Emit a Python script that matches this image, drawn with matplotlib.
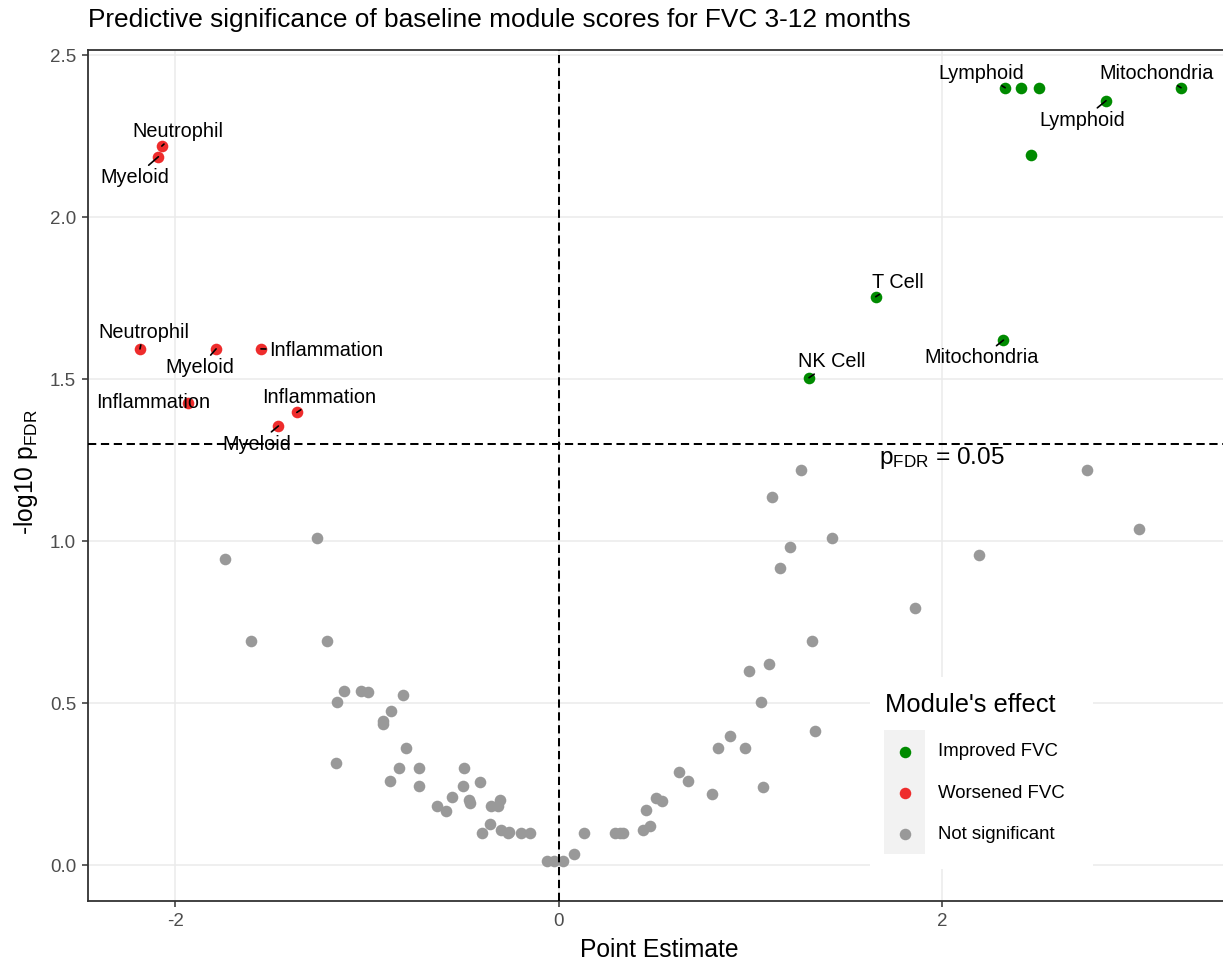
import matplotlib
matplotlib.use("Agg")
import matplotlib.pyplot as plt
from matplotlib.lines import Line2D
from matplotlib.patches import Rectangle

plt.rcParams["font.family"] = ["Liberation Sans", "DejaVu Sans"]
plt.rcParams["axes.unicode_minus"] = False

# modules with p_FDR >= 0.05
grey_x = [-1.740, -1.259, -1.606, -1.210, -1.120, -1.158, -1.031, -0.993, -0.814, -0.875,
          -0.918, -0.915, -0.795, -1.161, -0.833, -0.730, -0.880, -0.730, -0.495, -0.499,
          -0.410, -0.555, -0.469, -0.463, -0.633, -0.589, -0.353, -0.306, -0.315, -0.357,
          -0.402, -0.301, -0.258, -0.263, -0.197, -0.150, -0.063, -0.025, 0.024, 0.081,
          0.132, 0.294, 0.320, 0.337, 0.438, 0.476, 0.455, 0.507, 0.537, 0.629,
          0.673, 0.798, 0.829, 0.893, 0.973, 1.064, 1.057, 0.994, 1.097, 1.338,
          1.323, 1.153, 1.206, 1.424, 1.111, 1.262, 2.754, 3.025, 2.193, 1.858]
grey_y = [0.946, 1.011, 0.691, 0.691, 0.538, 0.503, 0.538, 0.535, 0.525, 0.475,
          0.446, 0.436, 0.361, 0.315, 0.301, 0.301, 0.261, 0.245, 0.301, 0.245,
          0.258, 0.210, 0.202, 0.193, 0.184, 0.169, 0.184, 0.202, 0.183, 0.127,
          0.099, 0.109, 0.104, 0.099, 0.099, 0.099, 0.013, 0.013, 0.013, 0.034,
          0.099, 0.099, 0.099, 0.099, 0.109, 0.122, 0.171, 0.209, 0.199, 0.287,
          0.261, 0.219, 0.361, 0.400, 0.361, 0.243, 0.503, 0.600, 0.623, 0.415,
          0.691, 0.919, 0.982, 1.011, 1.136, 1.220, 1.220, 1.039, 0.958, 0.795]

# worsened FVC
red_x = [-2.070, -2.088, -2.184, -1.787, -1.553, -1.932, -1.366, -1.462]
red_y = [2.220, 2.187, 1.594, 1.594, 1.594, 1.426, 1.398, 1.356]
red_names = ["Neutrophil", "Myeloid", "Neutrophil", "Myeloid", "Inflammation",
             "Inflammation", "Inflammation", "Myeloid"]

# improved FVC
green_x = [2.328, 2.409, 2.506, 2.854, 3.245, 2.465, 1.653, 2.319, 1.305]
green_y = [2.400, 2.400, 2.400, 2.360, 2.400, 2.193, 1.755, 1.621, 1.505]
green_names = ["Lymphoid", "", "", "Lymphoid", "Mitochondria", "", "T Cell",
               "Mitochondria", "NK Cell"]

FDR_CUT = 1.301  # -log10(0.05)

# where the repelled labels ended up (data coords), and whether a segment shows
red_lab = [(-1.988, 2.264), (-2.212, 2.123), (-2.166, 1.644), (-1.871, 1.537),
           (-1.215, 1.590), (-2.114, 1.429), (-1.248, 1.444), (-1.575, 1.300)]
red_seg = [True, True, True, True, True, False, True, True]
green_lab = [(2.203, 2.444), None, None, (2.731, 2.300), (3.119, 2.444), None,
             (1.771, 1.800), (2.203, 1.566), (1.425, 1.554)]

GREEN, RED, GREY = "#008B00", "#EE2C2C", "#999999"
W, H = 1223, 963

fig = plt.figure(figsize=(W / 100, H / 100), dpi=100)
ax = fig.add_axes([88 / W, 1 - 900.7 / H, 1 - 88 / W, (900.7 - 49.5) / H])

ax.scatter(grey_x, grey_y, s=70, color=GREY, lw=0, zorder=2)
ax.scatter(red_x, red_y, s=70, color=RED, lw=0, zorder=2)
ax.scatter(green_x, green_y, s=70, color=GREEN, lw=0, zorder=2)

dash = dict(color="black", lw=1.45, ls=(0, (4.1, 2.3)), zorder=3)
ax.axhline(FDR_CUT, **dash)
ax.axvline(0, **dash)

seg = dict(arrowstyle="-", color="black", lw=1.2, shrinkA=0, shrinkB=0)
for x, y, name, pos, s in zip(red_x, red_y, red_names, red_lab, red_seg):
    ax.annotate(name, xy=(x, y), xytext=pos, ha="center", va="center",
                fontsize=14.3, zorder=4, arrowprops=seg if s else None)
for x, y, name, pos in zip(green_x, green_y, green_names, green_lab):
    if pos is None:
        continue
    ax.annotate(name, xy=(x, y), xytext=pos, ha="center", va="center",
                fontsize=14.3, zorder=4, arrowprops=seg)

ax.text(2.0, 1.257, r"$\mathregular{p_{FDR}}$ = 0.05", ha="center", va="center",
        fontsize=17.6, zorder=4)

ax.set_xlim(-2.455, 3.464)
ax.set_ylim(-0.109, 2.518)
ax.set_xticks([-2, 0, 2])
ax.set_yticks([0, 0.5, 1.0, 1.5, 2.0, 2.5])
ax.grid(color="#EBEBEB", lw=1.1)
ax.set_axisbelow(True)
ax.tick_params(length=4.5, width=1.1, color="#333333", labelcolor="#4D4D4D",
               labelsize=13.5, pad=4)
for s in ax.spines.values():
    s.set_color("#333333")
    s.set_linewidth(1.3)
ax.spines["right"].set_visible(False)

fig.text(88 / W, 1 - 27 / H,
         "Predictive significance of baseline module scores for FVC 3-12 months",
         ha="left", va="baseline", fontsize=18.9)
fig.text(659 / W, 1 - 957 / H, "Point Estimate", ha="center", va="baseline",
         fontsize=17.7)
fig.text(26 / W, 1 - 472 / H, r"-log10 $\mathregular{p_{FDR}}$", rotation=90,
         ha="center", va="center", fontsize=17.7)

# legend, drawn by hand to get the ggplot key background
def fx(px):
    return px / W


def fy(py):
    return 1 - py / H


fig.add_artist(Rectangle((fx(870), fy(869)), 223 / W, 192 / H, transform=fig.transFigure,
                         facecolor="white", edgecolor="none", zorder=5))
fig.add_artist(Rectangle((fx(884), fy(854)), 41 / W, 124 / H, transform=fig.transFigure,
                         facecolor="#F2F2F2", edgecolor="none", zorder=6))
fig.text(fx(885), fy(705), "Module's effect", ha="left", va="center", fontsize=18.4,
         zorder=7)
for py, col, lab in zip([751.5, 793, 834], [GREEN, RED, GREY],
                        ["Improved FVC", "Worsened FVC", "Not significant"]):
    fig.add_artist(Line2D([fx(904.5)], [fy(py)], marker="o", ms=8.3, mew=0, color=col,
                          transform=fig.transFigure, zorder=7))
    fig.text(fx(938), fy(py), lab, ha="left", va="center", fontsize=13.4, zorder=7)

fig.savefig("out.png", dpi=100, facecolor="white")
